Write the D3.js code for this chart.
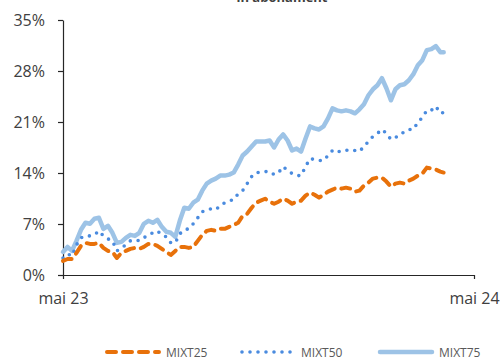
<!DOCTYPE html>
<html>
<head>
<meta charset="utf-8">
<script src="https://cdn.jsdelivr.net/npm/d3@7"></script>
<style>
  html, body { margin: 0; padding: 0; background: #fff; }
  svg { display: block; font-family: "Open Sans", "Noto Sans", sans-serif; }
</style>
</head>
<body>
<svg id="chart" width="501" height="358"></svg>
<script>
// Observation dates (every 4 days from May 2023)
const dates = [
  "2023-05-01","2023-05-05","2023-05-09","2023-05-13","2023-05-17","2023-05-21","2023-05-25","2023-05-29",
  "2023-06-02","2023-06-06","2023-06-10","2023-06-14","2023-06-18","2023-06-22","2023-06-26","2023-06-30",
  "2023-07-04","2023-07-08","2023-07-12","2023-07-16","2023-07-20","2023-07-24","2023-07-28",
  "2023-08-01","2023-08-05","2023-08-09","2023-08-13","2023-08-17","2023-08-21","2023-08-25","2023-08-29",
  "2023-09-02","2023-09-06","2023-09-10","2023-09-14","2023-09-18","2023-09-22","2023-09-26","2023-09-30",
  "2023-10-04","2023-10-08","2023-10-12","2023-10-16","2023-10-20","2023-10-24","2023-10-28",
  "2023-11-01","2023-11-05","2023-11-09","2023-11-13","2023-11-17","2023-11-21","2023-11-25","2023-11-29",
  "2023-12-03","2023-12-07","2023-12-11","2023-12-15","2023-12-19","2023-12-23","2023-12-27","2023-12-31",
  "2024-01-04","2024-01-08","2024-01-12","2024-01-16","2024-01-20","2024-01-24","2024-01-28",
  "2024-02-01","2024-02-05","2024-02-09","2024-02-13","2024-02-17","2024-02-21","2024-02-25","2024-02-29",
  "2024-03-04","2024-03-08","2024-03-12","2024-03-16","2024-03-20","2024-03-24","2024-03-28",
  "2024-04-01","2024-04-04"
];

// Cumulative return, %
const mixt25 = [
  1.93,2.20,2.20,3.03,4.00,4.41,4.27,4.27,4.41,3.72,3.31,3.17,2.34,3.03,3.31,3.58,
  3.72,3.58,3.86,4.27,4.27,4.00,3.58,3.17,2.76,3.31,3.86,3.86,3.72,3.86,4.69,
  5.51,6.06,6.20,6.06,6.34,6.34,6.61,6.89,7.17,8.13,8.41,9.23,9.92,10.20,10.47,
  10.06,9.78,10.06,10.47,10.20,9.78,10.06,10.20,10.89,11.30,11.02,10.61,11.02,11.44,11.71,11.99,
  11.85,11.99,11.85,11.44,11.58,12.26,12.68,13.23,13.37,13.37,12.82,12.13,12.54,12.68,12.54,
  12.95,13.23,13.64,13.92,14.74,14.61,14.47,14.19,14.06
];
const mixt50 = [
  2.34,2.89,2.62,4.13,5.10,5.37,5.37,5.51,6.06,5.37,4.96,4.69,3.31,3.72,4.13,4.69,
  4.82,4.69,5.10,5.51,5.79,6.06,5.51,5.24,4.41,4.41,5.65,6.20,6.34,7.03,7.85,
  8.68,8.96,9.09,8.96,9.51,9.92,10.20,10.33,11.16,11.58,12.54,13.50,14.06,14.06,14.19,
  14.19,13.78,14.06,14.88,14.33,13.92,13.64,13.64,14.88,15.98,15.85,15.71,15.71,16.40,17.09,16.81,
  17.09,17.09,17.22,17.09,16.95,17.64,18.33,19.02,19.43,19.98,19.43,18.60,18.88,19.15,19.71,
  19.98,19.98,20.95,21.63,22.60,22.60,23.15,22.19,22.32
];
const mixt75 = [
  3.17,3.86,3.31,4.69,6.20,7.17,7.03,7.72,7.85,6.34,6.75,5.79,4.41,4.55,5.10,5.51,
  5.37,5.79,7.03,7.44,7.17,7.58,6.61,5.93,5.79,5.24,7.44,9.23,9.09,9.92,10.33,
  11.58,12.54,12.95,13.23,13.64,13.64,13.78,14.06,15.16,16.40,16.95,17.64,18.33,18.33,18.33,
  18.46,17.50,18.60,19.29,18.46,17.09,17.36,16.95,18.74,20.39,20.12,19.98,20.39,21.50,22.87,22.60,
  22.46,22.60,22.46,22.19,22.74,23.43,24.67,25.49,26.04,27.01,25.63,23.98,25.49,26.04,26.18,
  26.73,27.56,28.80,29.49,30.87,31.00,31.42,30.59,30.59
];

const seriesNames = ["MIXT25", "MIXT50", "MIXT75"];
const yTicks = [0, 7, 14, 21, 28, 35];
const xTicks = ["2023-05-01", "2024-05-01"];
const xTickLabels = ["mai 23", "mai 24"];

const parse = d3.timeParse("%Y-%m-%d");
const svg = d3.select("#chart");

const x = d3.scaleTime()
  .domain([parse("2023-05-01"), parse("2024-05-01")])
  .range([63, 474]);
const y = d3.scaleLinear().domain([0, 35]).range([275, 20]);

const styles = {
  MIXT25: { color: "#E8710A", width: 4, dash: "9,7", cap: "round" },
  MIXT50: { color: "#4A8BDF", width: 3.6, dash: "0,8", cap: "round" },
  MIXT75: { color: "#9DC3E6", width: 4.5, dash: null, cap: "round" }
};
const values = { MIXT25: mixt25, MIXT50: mixt50, MIXT75: mixt75 };

// Title (its second line sits at the top edge)
svg.append("text")
  .attr("x", 282).attr("y", 1.5)
  .attr("text-anchor", "middle")
  .attr("font-size", 13).attr("font-weight", "bold")
  .attr("fill", "#404040")
  .text("în abonament");

// Axes
const yAxis = d3.axisLeft(y)
  .tickValues(yTicks)
  .tickFormat(d => d + "%")
  .tickSize(5).tickSizeOuter(0).tickPadding(13);
const gy = svg.append("g").attr("transform", "translate(63,0)").call(yAxis);

const xAxis = d3.axisBottom(x)
  .tickValues(xTicks.map(parse))
  .tickFormat((d, i) => xTickLabels[i])
  .tickSize(4).tickSizeOuter(0).tickPadding(14);
const gx = svg.append("g").attr("transform", "translate(0,275)").call(xAxis);

[gx, gy].forEach(g => {
  g.selectAll("path, line").attr("stroke", "#262626").attr("stroke-width", 1.2);
  g.selectAll("text").attr("font-size", 16).attr("fill", "#404040")
    .attr("font-family", "'Open Sans', sans-serif");
});

// Lines
const line = d3.line()
  .x((d, i) => x(parse(dates[i])))
  .y(d => y(d))
  .curve(d3.curveLinear);

["MIXT75", "MIXT50", "MIXT25"].forEach(name => {
  const s = styles[name];
  svg.append("path")
    .datum(values[name])
    .attr("fill", "none")
    .attr("stroke", s.color)
    .attr("stroke-width", s.width)
    .attr("stroke-linecap", s.cap)
    .attr("stroke-linejoin", "round")
    .attr("stroke-dasharray", s.dash)
    .attr("d", line);
});

// Legend
const legendX = [105, 240, 378];
const lg = svg.append("g");
seriesNames.forEach((name, i) => {
  const s = styles[name];
  const g = lg.append("g").attr("transform", `translate(${legendX[i]},352)`);
  g.append("line")
    .attr("x1", 2).attr("x2", 54).attr("y1", 0).attr("y2", 0)
    .attr("stroke", s.color)
    .attr("stroke-width", s.width)
    .attr("stroke-linecap", s.cap)
    .attr("stroke-dasharray", s.dash);
  g.append("text")
    .attr("x", 61).attr("y", 4.5)
    .attr("font-size", 12)
    .attr("fill", "#595959")
    .text(name);
});
</script>
</body>
</html>
